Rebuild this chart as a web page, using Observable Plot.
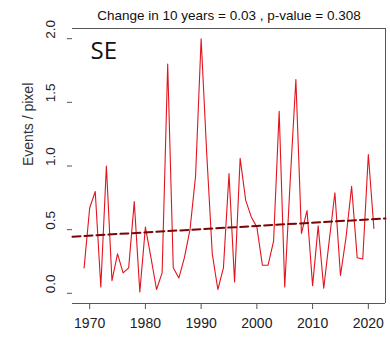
<!DOCTYPE html>
<html><head><meta charset="utf-8">
<script src="https://cdn.jsdelivr.net/npm/d3@7"></script>
<script src="https://cdn.jsdelivr.net/npm/@observablehq/plot@0.6"></script>
<style>body{margin:0;background:#fff;} svg{display:block}</style>
</head><body><div id="chart"></div>
<script>
const years = [1969,1970,1971,1972,1973,1974,1975,1976,1977,1978,1979,1980,1981,1982,1983,1984,1985,1986,1987,1988,1989,1990,1991,1992,1993,1994,1995,1996,1997,1998,1999,2000,2001,2002,2003,2004,2005,2006,2007,2008,2009,2010,2011,2012,2013,2014,2015,2016,2017,2018,2019,2020,2021];
const events = [0.20,0.67,0.80,0.05,1.00,0.10,0.31,0.16,0.20,0.72,0.01,0.52,0.28,0.03,0.16,1.80,0.20,0.12,0.28,0.50,0.92,2.00,1.10,0.31,0.03,0.20,0.94,0.09,1.06,0.73,0.60,0.52,0.22,0.22,0.41,1.43,0.05,0.90,1.68,0.47,0.65,0.06,0.53,0.04,0.42,0.79,0.14,0.44,0.84,0.28,0.27,1.09,0.51];
const trendYears = [1966.92, 2023.08];
const trendValues = [0.445, 0.588];
const xTicks = [1970, 1980, 1990, 2000, 2010, 2020];
const yTicks = [0, 0.5, 1, 1.5, 2];
const title = "Change in 10 years = 0.03 , p-value = 0.308";
const region = "SE";
const yLabel = "Events / pixel";

const data = years.map((y, i) => ({year: y, value: events[i]}));
const trend = trendYears.map((y, i) => ({year: y, value: trendValues[i]}));
const xDomain = [1966.92, 2023.08];
const yDomain = [-0.08, 2.08];

const plot = Plot.plot({
  width: 390, height: 338,
  marginLeft: 72, marginRight: 5, marginTop: 28, marginBottom: 35,
  x: {domain: xDomain},
  y: {domain: yDomain},
  style: {fontFamily: "'Liberation Sans', Arial, sans-serif", fontSize: "13px", color: "#222", background: "white"},
  marks: [
    Plot.ruleY([yDomain[1]], {stroke: "#555", strokeWidth: 1}),
    Plot.ruleY([yDomain[0]], {stroke: "#555", strokeWidth: 1}),
    Plot.ruleX([xDomain[1]], {stroke: "#555", strokeWidth: 1}),
    Plot.axisX({ticks: xTicks, tickSize: 6, tickPadding: 9, tickFormat: d => String(d), label: null, stroke: "#555", fill: "#222", fontSize: 14}),
    Plot.axisY({ticks: yTicks, tickSize: 5, tickFormat: () => "", label: null, stroke: "#555"}),
    Plot.text(yTicks, {y: d => d, frameAnchor: "left", text: d => d.toFixed(1), rotate: -90, dx: -22, fontSize: 13.5, fill: "#222"}),
    Plot.text([yLabel], {frameAnchor: "left", rotate: -90, dx: -44, fontSize: 14, fill: "#333"}),
    Plot.text([title], {frameAnchor: "top", dy: -12.5, lineAnchor: "middle", fontSize: 13.5, fill: "#111"}),
    Plot.text([region], {frameAnchor: "top-left", dx: 18, dy: 13, textAnchor: "start", lineAnchor: "top", fontSize: 24, fontFamily: "'Open Sans', sans-serif", fill: "#111"}),
    Plot.line(data, {x: "year", y: "value", stroke: "#e2141e", strokeWidth: 1.1}),
    Plot.line(trend, {x: "year", y: "value", stroke: "#7a0505", strokeWidth: 2, strokeDasharray: "8,4"})
  ]
});
document.getElementById("chart").appendChild(plot);
</script>
</body></html>
